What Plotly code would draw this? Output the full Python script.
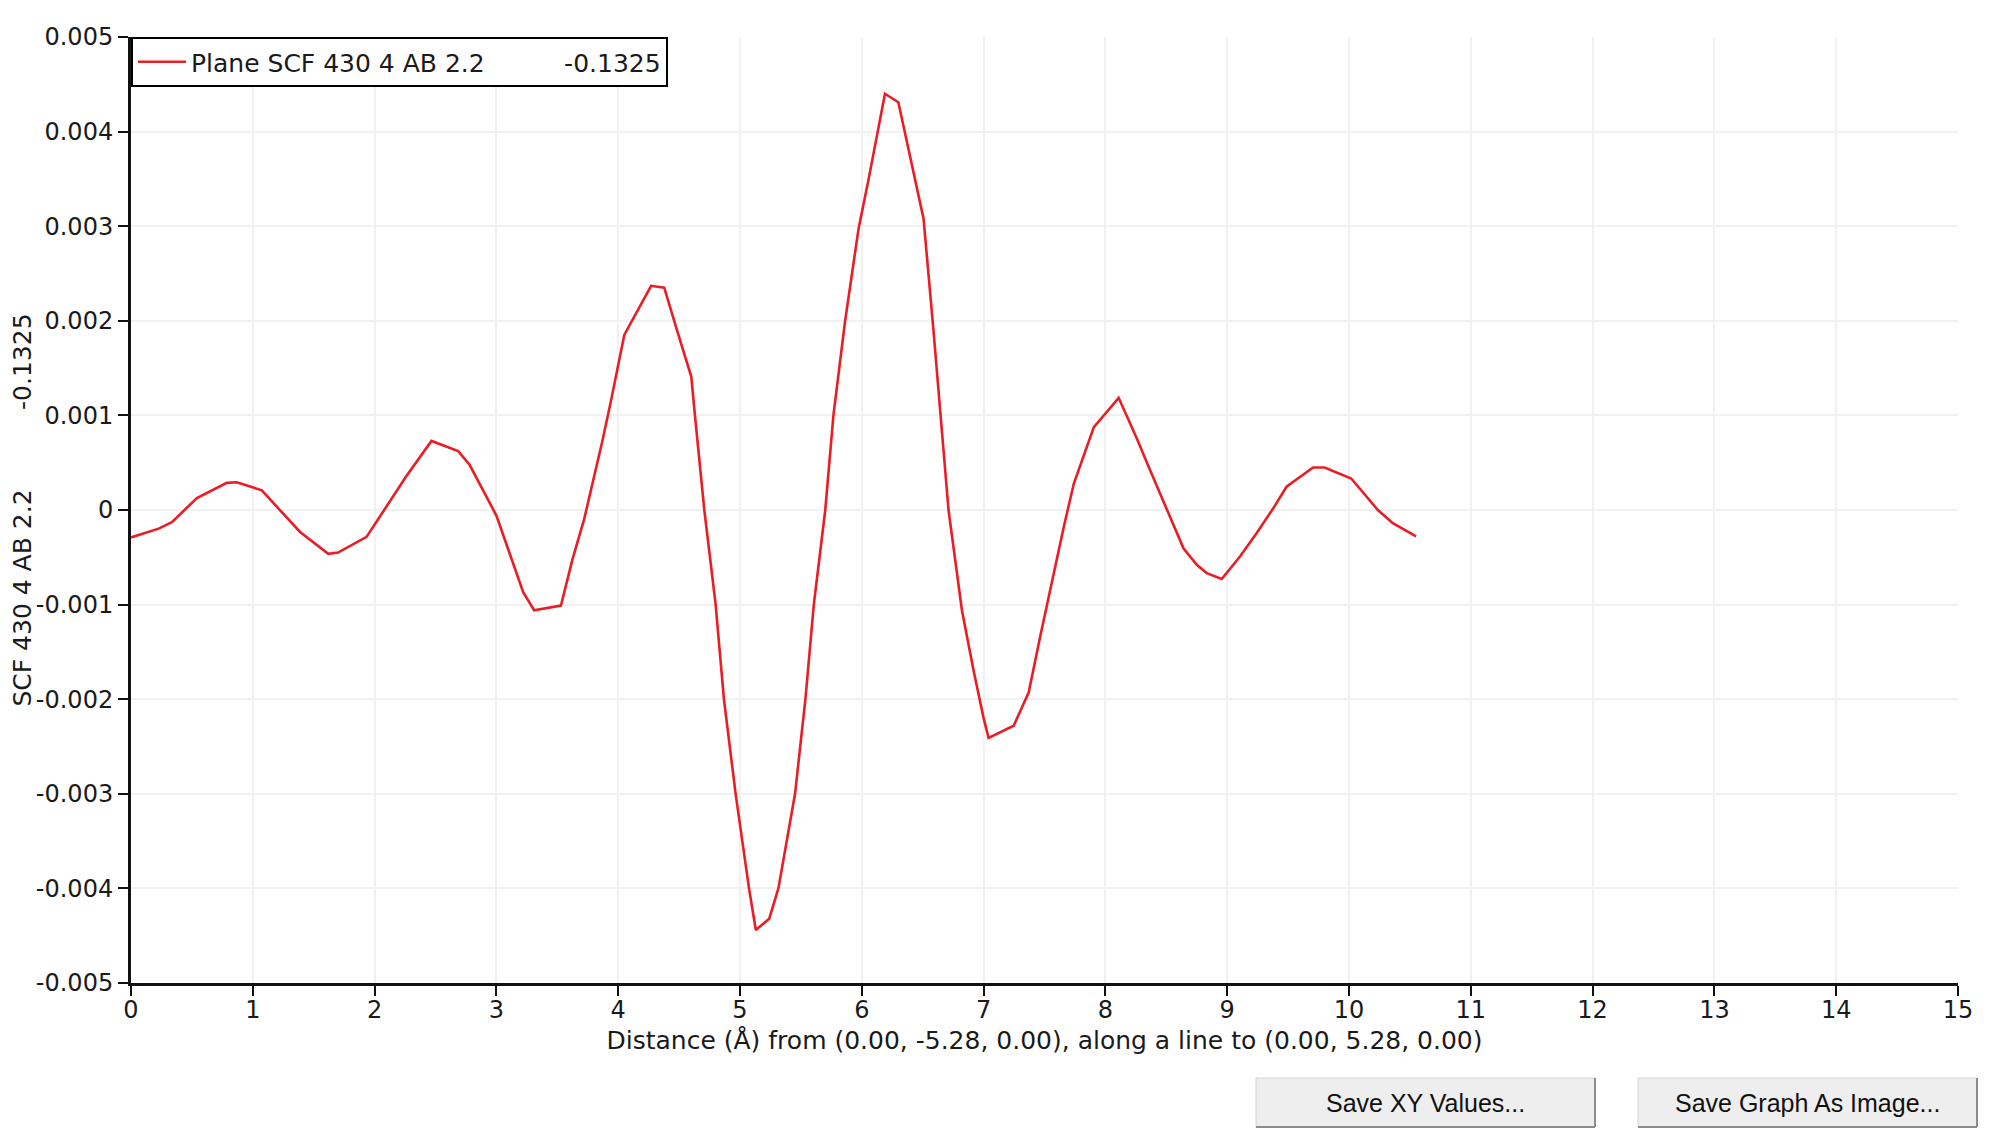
import plotly.graph_objects as go

# ---- data ----
distance = [0.0, 0.227, 0.336, 0.541, 0.787, 0.869, 1.074, 1.388, 1.62, 1.70,
            1.934, 2.04, 2.26, 2.467, 2.686, 2.78, 3.0, 3.22, 3.31, 3.53,
            3.625, 3.72, 3.80, 3.87, 3.94, 4.0, 4.05, 4.27, 4.378, 4.49,
            4.6, 4.63, 4.707, 4.80, 4.868, 4.964, 5.074, 5.13, 5.24, 5.315,
            5.452, 5.537, 5.606, 5.70, 5.767, 5.863, 5.973, 6.055, 6.19, 6.30,
            6.397, 6.507, 6.589, 6.644, 6.712, 6.822, 6.918, 7.0, 7.041, 7.247,
            7.37, 7.466, 7.563, 7.659, 7.741, 7.809, 7.905, 8.109, 8.259, 8.355,
            8.518, 8.641, 8.75, 8.832, 8.955, 9.105, 9.241, 9.378, 9.487, 9.705,
            9.80, 10.018, 10.237, 10.36, 10.551]
scf_values = [-0.00029, -0.000197, -0.000128, 0.000125, 0.000287, 0.000294, 0.000208, -0.000232, -0.000464, -0.00045,
              -0.000284, -0.00008, 0.000356, 0.00073, 0.000623, 0.000478, -0.000059, -0.00087, -0.00106, -0.00101,
              -0.00052, -0.0001, 0.00034, 0.00073, 0.00115, 0.00152, 0.00185, 0.00237, 0.00235, 0.00187,
              0.00141, 0.001, 0.0, -0.001, -0.002, -0.003, -0.004, -0.00444, -0.00432, -0.004,
              -0.003, -0.002, -0.001, 0.0, 0.001, 0.002, 0.00297, 0.00349, 0.0044, 0.00431,
              0.00375, 0.00308, 0.00189, 0.00101, 0.0, -0.00106, -0.0017, -0.0022, -0.00241, -0.00228,
              -0.00193, -0.00133, -0.00074, -0.000175, 0.00028, 0.000526, 0.000877, 0.001186, 0.000754, 0.000456,
              -0.000035, -0.000404, -0.000579, -0.000667, -0.00073, -0.000491, -0.000246, 0.0000175, 0.000246, 0.000449,
              0.000449, 0.000333, 0.0, -0.00014, -0.00028]

series_name = "Plane SCF 430 4 AB 2.2"
series_value = "-0.1325"
x_ticks = list(range(0, 16))
y_tick_vals = [-0.005, -0.004, -0.003, -0.002, -0.001, 0.0, 0.001, 0.002, 0.003, 0.004, 0.005]
y_tick_text = ["-0.005", "-0.004", "-0.003", "-0.002", "-0.001", "0",
               "0.001", "0.002", "0.003", "0.004", "0.005"]
x_title = "Distance (Å) from (0.00, -5.28, 0.00), along a line to (0.00, 5.28, 0.00)"
y_title = "SCF 430 4 AB 2.2" + "\u00a0" * 10 + "-0.1325"
buttons = ["Save XY Values...", "Save Graph As Image..."]

# ---- layout geometry (pixels, figure coords; page has an 8px body margin) ----
W, H = 1984, 1126
ML, MR, MT, MB = 123, 34, 29, 151
PW, PH = W - ML - MR, H - MT - MB
FONT = "DejaVu Sans"
FS_TICK = 24
FS = 25


def px_x(px):
    return (px - ML) / PW


def px_y(py):
    return (H - MB - py) / PH


fig = go.Figure()
fig.add_trace(go.Scatter(
    x=distance, y=scf_values, mode="lines",
    name=series_name + "\u00a0" * 10 + series_value,
    line=dict(color="#ea1c24", width=2.6),
    hoverinfo="x+y",
))

shapes = []
annotations = []
for label, (x0, x1) in zip(buttons, [(1248, 1587), (1630, 1969)]):
    y0, y1 = 1070, 1119
    shapes.append(dict(type="rect", xref="paper", yref="paper",
                       x0=px_x(x0), x1=px_x(x1), y0=px_y(y1), y1=px_y(y0),
                       fillcolor="#eeeeee", line=dict(color="#d4d4d4", width=1), layer="above"))
    shapes.append(dict(type="line", xref="paper", yref="paper",
                       x0=px_x(x0), x1=px_x(x1), y0=px_y(y1), y1=px_y(y1),
                       line=dict(color="#8c8c8c", width=2)))
    shapes.append(dict(type="line", xref="paper", yref="paper",
                       x0=px_x(x1), x1=px_x(x1), y0=px_y(y1), y1=px_y(y0),
                       line=dict(color="#8c8c8c", width=2)))
    annotations.append(dict(text=label, xref="paper", yref="paper",
                            x=px_x((x0 + x1) / 2), y=px_y((y0 + y1) / 2),
                            xanchor="center", yanchor="middle", showarrow=False,
                            font=dict(family="Liberation Sans", size=25, color="#111111")))

fig.update_layout(
    width=W, height=H,
    margin=dict(l=ML, r=MR, t=MT, b=MB, pad=0, autoexpand=False),
    paper_bgcolor="white", plot_bgcolor="white",
    font=dict(family=FONT, size=FS, color="#1a1a1a"),
    showlegend=True,
    legend=dict(x=0, y=1, xanchor="left", yanchor="top",
                bgcolor="white", bordercolor="#000000", borderwidth=2,
                font=dict(family=FONT, size=FS, color="#1a1a1a"),
                itemwidth=48),
    xaxis=dict(range=[0, 15], tickvals=x_ticks, ticktext=[str(v) for v in x_ticks],
               tickfont=dict(family=FONT, size=FS_TICK),
               showgrid=True, gridcolor="#f1f1f1", gridwidth=2,
               showline=True, linecolor="#111111", linewidth=3,
               ticks="outside", ticklen=10, tickwidth=2, tickcolor="#111111",
               ticklabelstandoff=-7, automargin=False,
               zeroline=False,
               title=dict(text=x_title, font=dict(family=FONT, size=FS), standoff=9)),
    yaxis=dict(range=[-0.005, 0.005], tickvals=y_tick_vals, ticktext=y_tick_text,
               tickfont=dict(family=FONT, size=FS_TICK),
               showgrid=True, gridcolor="#f1f1f1", gridwidth=2,
               showline=True, linecolor="#111111", linewidth=3,
               ticks="outside", ticklen=10, tickwidth=2, tickcolor="#111111",
               automargin=True,
               zeroline=False,
               title=dict(text=y_title, font=dict(family=FONT, size=FS), standoff=10)),
    shapes=shapes,
    annotations=annotations,
)

fig.write_html("out.html")
